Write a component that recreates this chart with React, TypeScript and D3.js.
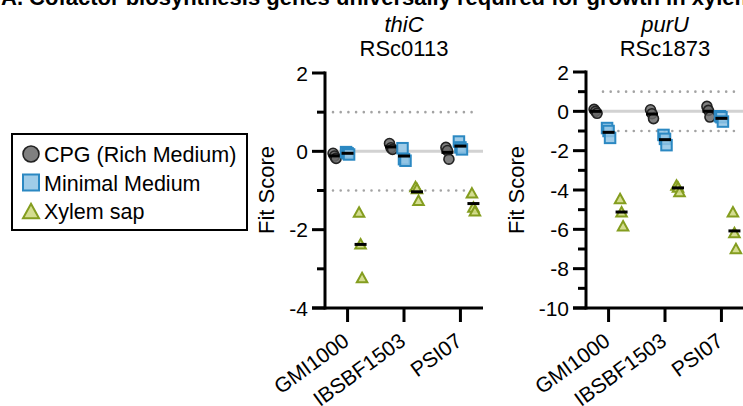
import React from "react";
import * as d3 from "d3";

const strains = ["GMI1000", "IBSBF1503", "PSI07"];
const media = ["CPG (Rich Medium)", "Minimal Medium", "Xylem sap"];

// fit scores per strain, three replicates each
const thiC_cpg = [[-0.05, -0.12, -0.18], [0.2, 0.09, 0.05], [0.1, 0.02, -0.2]];
const thiC_min = [[-0.02, -0.05, -0.08], [0.08, -0.2, -0.24], [0.25, 0.1, 0.05]];
const thiC_xyl = [[-1.55, -2.36, -3.22], [-0.9, -0.95, -1.25], [-1.06, -1.42, -1.52]];

const purU_cpg = [[0.1, 0.0, -0.1], [0.08, -0.12, -0.37], [0.25, 0.05, -0.29]];
const purU_min = [[-0.85, -1.0, -1.35], [-1.2, -1.4, -1.72], [-0.25, -0.3, -0.52]];
const purU_xyl = [[-4.43, -5.11, -5.82], [-3.75, -3.85, -4.08], [-5.11, -6.16, -6.97]];

const thiC_ticks = [2, 0, -2, -4];
const purU_ticks = [2, 0, -2, -4, -6, -8, -10];

const colors = {
  cpg: { fill: "#6a6a6a", stroke: "#222" },
  min: { fill: "#8fc3e4", stroke: "#2b88c2" },
  xyl: { fill: "#cfd984", stroke: "#849d1f" },
};

const FONT = "Arial, 'Liberation Sans', Helvetica, sans-serif";

function Marker({ kind, x, y, s }: { kind: string; x: number; y: number; s: number }) {
  const c = (colors as any)[kind];
  if (kind === "cpg")
    return <circle cx={x} cy={y} r={s / 2} fill={c.fill} stroke={c.stroke} strokeWidth={1.6} fillOpacity={0.85} />;
  if (kind === "min")
    return <rect x={x - s / 2} y={y - s / 2} width={s} height={s} fill={c.fill} stroke={c.stroke} strokeWidth={2} fillOpacity={0.85} />;
  const h = s * 0.9;
  return (
    <path
      d={`M${x},${y - h / 2}L${x + s / 2},${y + h / 2}L${x - s / 2},${y + h / 2}Z`}
      fill={c.fill}
      stroke={c.stroke}
      strokeWidth={2}
      fillOpacity={0.9}
    />
  );
}

function Panel(props: {
  left: number;
  top: number;
  domain: [number, number];
  ticks: number[];
  gene: string;
  locus: string;
  labelX: number;
  dotStart: number;
  series: { kind: string; values: number[][] }[];
}) {
  const { left, top, domain, ticks, series } = props;
  const bottom = 308;
  const width = 158;
  const y = d3.scaleLinear().domain(domain).range([bottom, top]);
  const x = d3.scalePoint().domain(strains).range([left, left + width]).padding(0.4);
  const offsets = [-13, 0, 13];
  const minor = d3.range(domain[0], domain[1] + 1, 1).filter((v) => !ticks.includes(v));
  const cx0 = left + width / 2;
  return (
    <g>
      <text x={cx0} y={32} textAnchor="middle" fontSize={22} fontStyle="italic" fontFamily={FONT}>
        {props.gene}
      </text>
      <text x={cx0} y={56} textAnchor="middle" fontSize={22} fontFamily={FONT}>
        {props.locus}
      </text>
      {/* reference lines */}
      <line x1={left + 8} x2={left + width} y1={y(0)} y2={y(0)} stroke="#d2d2d2" strokeWidth={3} />
      {[1, -1].map((v) => (
        <line
          key={v}
          x1={props.dotStart}
          x2={left + width - 4}
          y1={y(v)}
          y2={y(v)}
          stroke="#a3a3a3"
          strokeWidth={2.6}
          strokeDasharray="0 7.7"
          strokeLinecap="round"
        />
      ))}
      {/* points */}
      {series.map((s, si) =>
        s.values.map((vals, ci) => {
          const cx = (x(strains[ci]) as number) + offsets[si];
          const mean = d3.mean(vals) as number;
          return (
            <g key={si + "-" + ci}>
              {vals.map((v, k) => (
                <Marker key={k} kind={s.kind} x={cx + (k - 1) * 1.5} y={y(v)} s={s.kind === "cpg" ? 10 : 10.5} />
              ))}
              <line x1={cx - 6} x2={cx + 6} y1={y(mean)} y2={y(mean)} stroke="#000" strokeWidth={3} />
            </g>
          );
        })
      )}
      {/* y axis */}
      <line x1={left} x2={left} y1={top - 1.5} y2={bottom + 1.5} stroke="#000" strokeWidth={3} />
      {ticks.map((t) => (
        <g key={t}>
          <line x1={left - 13} x2={left} y1={y(t)} y2={y(t)} stroke="#000" strokeWidth={3} />
          <text x={left - 17} y={y(t)} dy="0.36em" textAnchor="end" fontSize={21} fontFamily={FONT}>
            {t}
          </text>
        </g>
      ))}
      {minor.map((t) => (
        <line key={t} x1={left - 8} x2={left} y1={y(t)} y2={y(t)} stroke="#000" strokeWidth={3} />
      ))}
      {/* x axis */}
      <line x1={left - 13} x2={left + width} y1={bottom} y2={bottom} stroke="#000" strokeWidth={3} />
      {strains.map((s) => {
        const px = x(s) as number;
        return (
          <g key={s}>
            <line x1={px} x2={px} y1={bottom} y2={bottom + 14} stroke="#000" strokeWidth={3} />
            <text
              transform={`translate(${px + 3},${bottom + 36}) rotate(-36)`}
              textAnchor="end"
              fontSize={21}
              fontFamily={FONT}
            >
              {s}
            </text>
          </g>
        );
      })}
      <text
        transform={`translate(${props.labelX},${190}) rotate(-90)`}
        textAnchor="middle"
        fontSize={22}
        fontFamily={FONT}
      >
        Fit Score
      </text>
    </g>
  );
}

export default function App() {
  const legendKinds = ["cpg", "min", "xyl"];
  return (
    <svg width={743} height={406} style={{ position: "absolute", left: 0, top: 0, background: "#fff" }}>
      <text x={1} y={5} fontSize={22} fontWeight="bold" fontFamily={FONT}>
        A. Cofactor biosynthesis genes universally required for growth in xylem sap
      </text>
      <g>
        <rect x={12} y={134} width={235} height={96} fill="#fff" stroke="#000" strokeWidth={2} />
        {media.map((m, i) => (
          <g key={m}>
            <Marker kind={legendKinds[i]} x={31} y={154 + i * 28.5} s={16} />
            <text x={44} y={162 + i * 28.5} fontSize={21.5} fontFamily={FONT}>
              {m}
            </text>
          </g>
        ))}
      </g>
      <Panel
        left={325}
        top={73}
        domain={[-4, 2]}
        ticks={thiC_ticks}
        gene="thiC"
        locus="RSc0113"
        labelX={274}
        dotStart={333}
        series={[
          { kind: "cpg", values: thiC_cpg },
          { kind: "min", values: thiC_min },
          { kind: "xyl", values: thiC_xyl },
        ]}
      />
      <Panel
        left={586}
        top={72}
        domain={[-10, 2]}
        ticks={purU_ticks}
        gene="purU"
        locus="RSc1873"
        labelX={524}
        dotStart={603}
        series={[
          { kind: "cpg", values: purU_cpg },
          { kind: "min", values: purU_min },
          { kind: "xyl", values: purU_xyl },
        ]}
      />
    </svg>
  );
}
